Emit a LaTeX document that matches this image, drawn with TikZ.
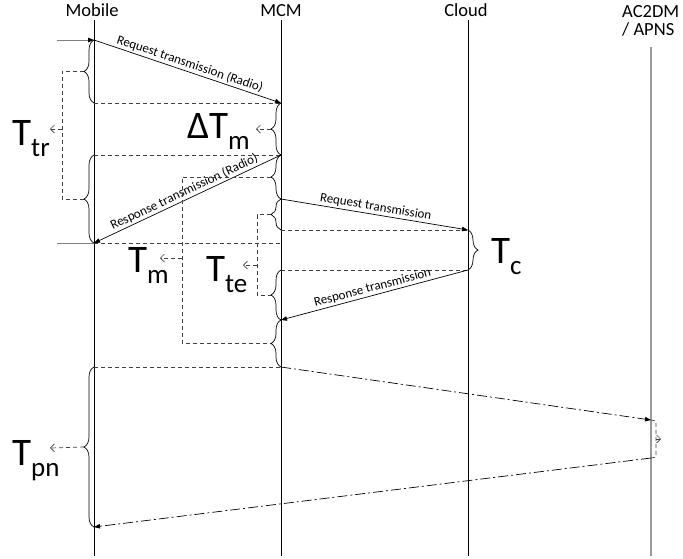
\documentclass[tikz,border=0pt]{standalone}
\usepackage{fontspec}
\setmainfont{Carlito}
\usetikzlibrary{decorations.pathreplacing,arrows.meta}
\newcommand{\Tlab}[2]{#1\raisebox{-11pt}{\fontsize{27}{27}\selectfont #2}}
\tikzset{
  life/.style={draw=black, line width=0.8pt},
  lifegray/.style={draw=black!40, line width=1.3pt},
  msg/.style={draw=black, line width=0.7pt, -{Triangle[length=6pt,width=4.5pt]}},
  ddmsg/.style={msg, dash pattern=on 10pt off 3pt on 2pt off 3pt},
  entry/.style={draw=black!50, line width=0.8pt},
  guide/.style={draw=black!75, line width=0.7pt, dash pattern=on 4pt off 3pt},
  br/.style={draw=black, line width=0.7pt, decorate, decoration={brace, amplitude=10pt}},
  ptr/.style={guide, -{Straight Barb[length=4pt,width=8pt]}},
  big/.style={font=\fontsize{39}{39}\selectfont, anchor=base west, inner sep=0pt},
  mlabel/.style={font=\fontsize{13}{15}\selectfont, sloped, above, midway, inner sep=1.5pt},
  head/.style={font=\fontsize{18.5}{18.5}\selectfont, anchor=base, inner sep=0pt},
  headl/.style={font=\fontsize{18.5}{18.5}\selectfont, anchor=base west, inner sep=0pt}
}
\begin{document}
\begin{tikzpicture}[x=1pt, y=-1pt]
\useasboundingbox (0,0) rectangle (683,558);

% headers
\node[head] (hmob) at (92,16) {Mobile};
\node[head] (hmcm) at (281,16) {MCM};
\node[head] (hcld) at (466,16) {Cloud};
\node[headl] (hac1) at (622,17) {AC2DM};
\node[headl] (hac2) at (622,35) {/ APNS};

% lifelines
\coordinate (mobT) at (94,20);  \coordinate (mobB) at (94,556);
\coordinate (mcmT) at (281,20); \coordinate (mcmB) at (281,556);
\coordinate (cldT) at (468,20); \coordinate (cldB) at (468,556);
\coordinate (acT)  at (651,47); \coordinate (acB)  at (651,556);
\draw[life] (mobT) -- (mobB);
\draw[life] (mcmT) -- (mcmB);
\draw[life] (cldT) -- (cldB);
\draw[lifegray] (acT) -- (acB);

% event points
\coordinate (inA) at (57,40);   \coordinate (m1s) at (94,40);
\coordinate (m1e) at (281,103); \coordinate (d1) at (94,103);
\coordinate (m2s) at (281,155); \coordinate (d2) at (94,155);
\coordinate (m2e) at (94,243);  \coordinate (inB) at (57,243); \coordinate (d3) at (281,243);
\coordinate (m3s) at (281,199); \coordinate (m3e) at (468,230); \coordinate (d4) at (281,230);
\coordinate (m4s) at (468,270); \coordinate (m4e) at (281,320); \coordinate (d5) at (281,270);
\coordinate (m5s) at (281,367); \coordinate (m5e) at (651,420); \coordinate (d6) at (94,367);
\coordinate (m6s) at (651,458); \coordinate (m6e) at (94,527);

% entry lines
\draw[entry, -{Triangle[length=6pt,width=4.5pt,black]}] (inA) -- (m1s);
\draw[entry] (inB) -- (m2e);

% horizontal guides
\draw[guide] (d1) -- (m1e);
\draw[guide] (d2) -- (m2s);
\draw[guide] (m2e) -- (d3);
\draw[guide] (d4) -- (m3e);
\draw[guide] (d5) -- (m4s);
\draw[guide] (d6) -- (m5s);

% messages
\draw[msg] (m1s) -- node[mlabel] {Request transmission (Radio)} (m1e);
\draw[msg] (m2s) -- node[mlabel] {Response transmission (Radio)} (m2e);
\draw[msg] (m3s) -- node[mlabel] {Request transmission} (m3e);
\draw[msg] (m4s) -- node[mlabel] {Response transmission} (m4e);
\draw[ddmsg] (m5s) -- (m5e);
\draw[ddmsg] (m6s) -- (m6e);

% braces on Mobile
\draw[br] (d1) -- (m1s);
\draw[br] (m2e) -- (d2);
\draw[br] (m6e) -- (d6);
% braces on MCM
\draw[br] (m2s) -- (m1e);
\draw[br] (m3s) -- (m2s);
\draw[br] (d4) -- (m3s);
\draw[br] (m4e) -- (d5);
\draw[br] (m5s) -- (m4e);
% brace on Cloud
\draw[br] (m3e) -- (m4s);

% brace tips
\coordinate (tM1) at (84,71);   \coordinate (tM2) at (84,199); \coordinate (tM3) at (84,447);
\coordinate (tC1) at (271,129); \coordinate (tC2) at (271,177); \coordinate (tC3) at (271,214.5);
\coordinate (tC4) at (271,295); \coordinate (tC5) at (271,343.5);

% T_tr bracket
\coordinate (trA) at (62,71); \coordinate (trB) at (62,199);
\draw[guide] (tM1) -- (trA) -- (trB) -- (tM2);
\coordinate (trP) at (62,129); \coordinate (trQ) at (50,129);
\draw[ptr] (trP) -- (trQ);

% Delta T_m pointer
\coordinate (dtQ) at (256,129);
\draw[ptr] (tC1) -- (dtQ);

% T_m bracket
\coordinate (tmA) at (182,177); \coordinate (tmB) at (182,343.5);
\draw[guide] (tC2) -- (tmA) -- (tmB) -- (tC5);
\coordinate (tmP) at (182,258); \coordinate (tmQ) at (160,258);
\draw[ptr] (tmP) -- (tmQ);

% T_te bracket
\coordinate (teA) at (257,214.5); \coordinate (teB) at (257,295);
\draw[guide] (tC3) -- (teA) -- (teB) -- (tC4);
\coordinate (teP) at (257,265); \coordinate (teQ) at (243,265);
\draw[ptr] (teP) -- (teQ);

% T_pn pointer
\coordinate (pnQ) at (50,448);
\draw[ptr] (tM3) -- (pnQ);

% AC2DM bracket
\coordinate (acA) at (656,421); \coordinate (acC) at (656,457);
\draw[guide] (m5e) -- (acA) -- (acC) -- (m6s);
\coordinate (acP) at (656,439); \coordinate (acQ) at (661,439);
\draw[ptr] (acP) -- (acQ);

% big labels
\node[big] (Ttr) at (12,145) {\Tlab{T}{tr}};
\node[big] (DTm) at (187,138) {\Tlab{ΔT}{m}};
\node[big] (Tm)  at (128,272) {\Tlab{T}{m}};
\node[big] (Tte) at (206,281) {\Tlab{T}{te}};
\node[big] (Tc)  at (491,263) {\Tlab{T}{c}};
\node[big] (Tpn) at (12,465) {\Tlab{T}{pn}};
\end{tikzpicture}
\end{document}
